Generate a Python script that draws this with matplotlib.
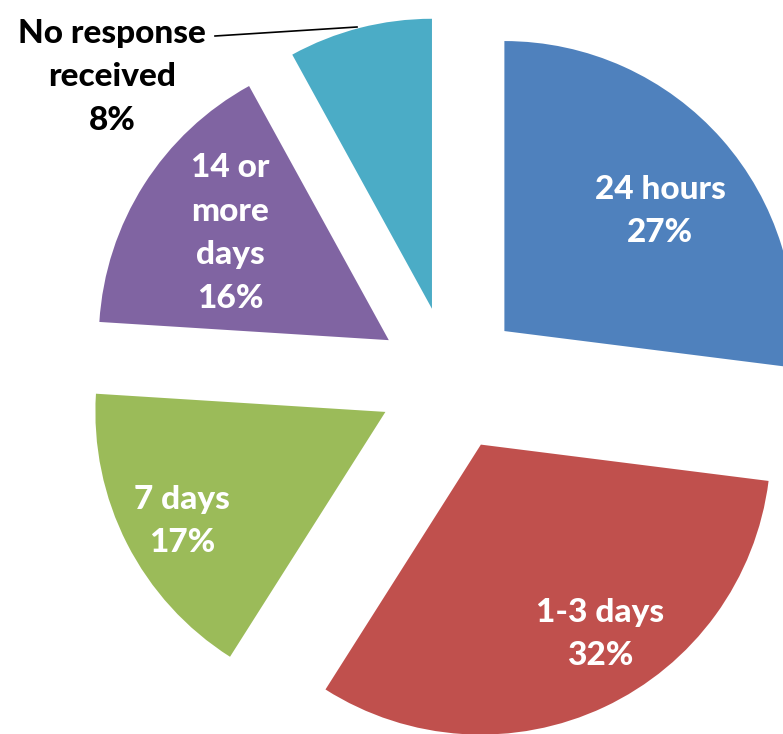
import matplotlib.pyplot as plt

labels = ['24 hours', '1-3 days', '7 days', '14 or\nmore\ndays', 'No response\nreceived']
shares = [27, 32, 17, 16, 8]
colors = ['#4F81BD', '#C0504D', '#9BBB59', '#8064A2', '#4BACC6']

fig = plt.figure(figsize=(7.83, 7.34), dpi=100)
ax = fig.add_axes([0, 0, 1, 1])

# pie center sits at about (450, 379) px, radius 290 px
wedges, _ = ax.pie(shares, colors=colors, startangle=90, counterclock=False,
                   explode=[0.25] * 5, radius=1.0, center=(0, 0),
                   wedgeprops=dict(linewidth=0))

ax.set_xlim(-450 / 290, 333 / 290)
ax.set_ylim(-355 / 290, 379 / 290)
ax.set_aspect('auto')
ax.axis('off')

font = dict(family=['Lato', 'DejaVu Sans'], fontweight='black', fontsize=24,
            ha='center', va='center', linespacing=1.6)

# label positions in pixel terms converted to data
def px(x, y):
    return ((x - 450) / 290, (379 - y) / 290)

inside = [(660, 211), (600, 634), (182, 521), (230, 233)]
for i, (x, y) in enumerate(inside):
    ax.text(*px(x, y), f'{labels[i]}\n{shares[i]}%', color='white', **font)

ax.text(*px(112, 77), f'{labels[4]}\n{shares[4]}%', color='black', **font)
lx0, ly0 = px(215, 36)
lx1, ly1 = px(357, 27)
ax.plot([lx0, lx1], [ly0, ly1], color='black', lw=1.2)

fig.savefig('out.png', dpi=100)
